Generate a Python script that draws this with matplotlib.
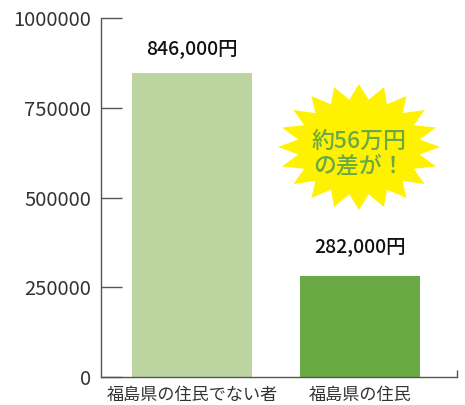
import numpy as np
import matplotlib
matplotlib.use("Agg")
import matplotlib.pyplot as plt
from matplotlib.patches import Polygon

plt.rcParams['font.family'] = ['Noto Sans CJK JP', 'DejaVu Sans']

categories = ["福島県の住民でない者", "福島県の住民"]
values = [846000, 282000]
value_labels = ["846,000円", "282,000円"]
bar_colors = ["#bcd5a0", "#6aaa45"]
yticks = [0, 250000, 500000, 750000, 1000000]
burst_text = "約56万円\nの差が！"

fig = plt.figure(figsize=(4.65, 4.05), dpi=100)
ax = fig.add_axes([101/465, 1-377/405, 356/465, 359/405])

x = np.arange(len(categories))
ax.bar(x, values, width=0.714, color=bar_colors)
label_offsets_pt = [18, 21]
for xi, v, lab, off in zip(x, values, value_labels, label_offsets_pt):
    ax.annotate(lab, (xi, v), xytext=(0, off), textcoords='offset points',
                ha='center', va='center', fontsize=14,
                fontweight='medium', color='#111111')

ax.set_ylim(0, 1000000)
ax.set_xlim(-0.542, 1.577)
ax.set_yticks(yticks)
ax.set_yticklabels([str(t) for t in yticks], fontsize=14.5, color='#333333')
ax.set_xticks(x)
ax.set_xticklabels(categories, fontsize=12.3, color='#333333')
ax.tick_params(axis='x', length=0, pad=6.5)
ax.tick_params(axis='y', direction='in', length=15, width=1, color='#555555', pad=7)
ax.set_xticks([1.577], minor=True)
ax.tick_params(axis='x', which='minor', direction='in', length=5, width=1, color='#555555')
for s in ['top', 'right']:
    ax.spines[s].set_visible(False)
for s in ['left', 'bottom']:
    ax.spines[s].set_color('#555555')
    ax.spines[s].set_linewidth(1)

# starburst in pixel-based figure coords
cx, cy = 359/465, 1 - 147/405
rx, ry = 81/465, 63/405
n = 20
ang = np.linspace(0, 2*np.pi, 2*n, endpoint=False) + np.pi/2
r = np.where(np.arange(2*n) % 2 == 0, 1.0, 0.76)
pts = np.column_stack([cx + rx*r*np.cos(ang), cy + ry*r*np.sin(ang)])
fig.patches.append(Polygon(pts, closed=True, facecolor='#fff200', edgecolor='none',
                           transform=fig.transFigure))
fig.text(cx, 1 - 154/405, burst_text, ha='center', va='center', fontsize=16.5,
         color='#6aaa45', fontweight='medium', linespacing=1.1)

fig.savefig("out.png", dpi=100)
